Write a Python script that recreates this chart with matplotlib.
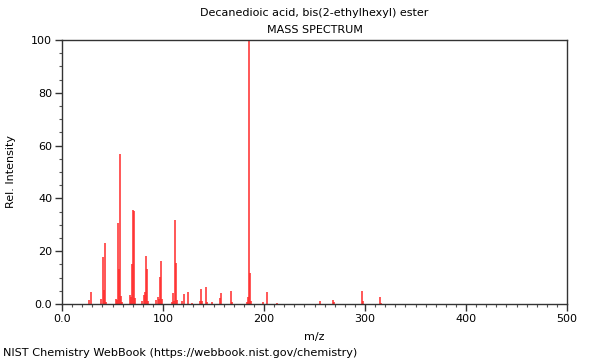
import matplotlib
matplotlib.use("Agg")
import matplotlib.pyplot as plt
from matplotlib.ticker import MultipleLocator, FixedLocator

title = "Decanedioic acid, bis(2-ethylhexyl) ester"
subtitle = "MASS SPECTRUM"
xlabel = "m/z"
ylabel = "Rel. Intensity"
footer = "NIST Chemistry WebBook (https://webbook.nist.gov/chemistry)"

mz = [27, 29, 39, 41, 42, 43, 44, 53, 54, 55, 56, 57, 58, 59,
      67, 68, 69, 70, 71, 72, 79, 81, 82, 83, 84, 85,
      93, 95, 96, 97, 98, 99, 109, 110, 111, 112, 113, 114,
      119, 121, 125, 129, 137, 138, 139, 143, 144, 149,
      156, 157, 167, 168, 183, 184, 185, 186, 187,
      199, 203, 213, 255, 268, 269, 297, 298, 315, 316]
intensity = [1.5, 4.4, 1.9, 17.7, 5.3, 23.1, 0.9, 1.8, 1.6, 30.7, 13.2, 56.7, 3.1, 0.8,
             3.4, 2.8, 15.0, 35.7, 35.2, 2.3, 1.3, 3.4, 4.5, 18.2, 13.3, 1.3,
             1.5, 2.8, 1.8, 10.1, 16.3, 1.8, 0.6, 4.0, 1.0, 31.8, 15.4, 1.5,
             1.1, 3.9, 4.5, 0.5, 1.3, 5.8, 1.3, 6.6, 0.8, 0.6,
             2.1, 4.0, 5.0, 0.9, 0.6, 2.8, 100.0, 11.9, 1.3,
             0.6, 4.5, 0.3, 1.1, 1.6, 0.8, 4.8, 1.0, 2.7, 0.4]

x_ticks = [0, 100, 200, 300, 400, 500]
x_tick_labels = ["0.0", "100", "200", "300", "400", "500"]
y_ticks = [0, 20, 40, 60, 80, 100]
y_tick_labels = ["0.0", "20", "40", "60", "80", "100"]

fig = plt.figure(figsize=(6, 3.6), dpi=100)
ax = fig.add_axes([62/600, 1-304/360, (567-62)/600, (304-40)/360])

ax.vlines(mz, 0, intensity, colors="#ff2a2a", linewidth=1.1)

ax.set_xlim(0, 500)
ax.set_ylim(0, 100)
ax.xaxis.set_major_locator(FixedLocator(x_ticks))
ax.set_xticklabels(x_tick_labels)
ax.yaxis.set_major_locator(FixedLocator(y_ticks))
ax.set_yticklabels(y_tick_labels)
ax.xaxis.set_minor_locator(MultipleLocator(10))
ax.yaxis.set_minor_locator(MultipleLocator(5))
ax.tick_params(which="major", direction="out", length=5, width=1, labelsize=8, colors="#333333", labelcolor="black", pad=2)
ax.tick_params(which="minor", direction="out", length=2.5, width=0.8, colors="#555555")
for s in ax.spines.values():
    s.set_color("#333333")
    s.set_linewidth(1.0)

ax.set_xlabel(xlabel, fontsize=8, labelpad=6)
ax.set_ylabel(ylabel, fontsize=8, labelpad=11)

cx = (62 + 567) / 2 / 600
fig.text(cx, 1 - 13/360, title, ha="center", va="center", fontsize=8)
fig.text(cx, 1 - 30/360, subtitle, ha="center", va="center", fontsize=8)
fig.text(3/600, 1 - 353/360, footer, ha="left", va="center", fontsize=8.15)

fig.savefig("out.png", dpi=100)
